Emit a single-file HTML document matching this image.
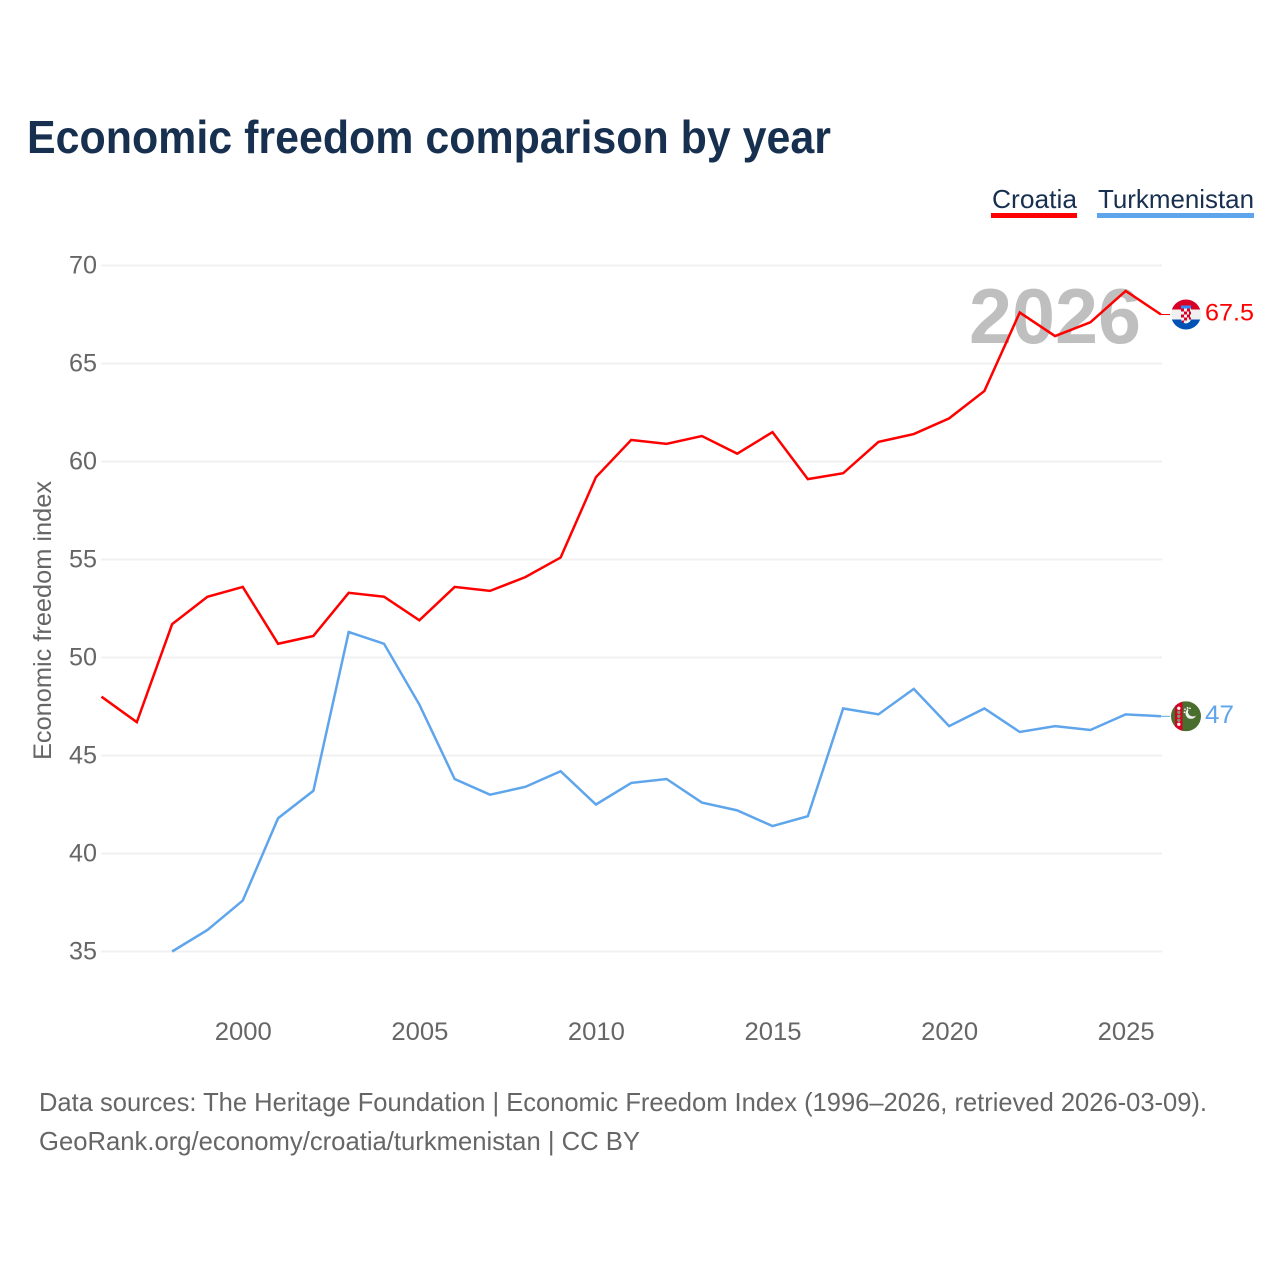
<!DOCTYPE html>
<html lang="en">
<head>
<meta charset="utf-8">
<title>Economic freedom comparison by year</title>
<style>
html,body{margin:0;padding:0;background:#fff;width:1280px;height:1280px;overflow:hidden}
svg{display:block}
text{font-family:"Liberation Sans",Arial,sans-serif}
</style>
</head>
<body>
<svg id="chart" xmlns="http://www.w3.org/2000/svg" width="1280" height="1280" viewBox="0 0 1280 1280">
  <defs>
    <clipPath id="clip-hr"><circle id="clip-hr-c" cx="0" cy="0" r="15"/></clipPath>
    <clipPath id="clip-tm"><circle id="clip-tm-c" cx="0" cy="0" r="15"/></clipPath>
  </defs>
  <text x="27" y="153" font-size="46" font-weight="700" fill="#18304f" textLength="804" lengthAdjust="spacingAndGlyphs">Economic freedom comparison by year</text>

  <g id="grid"></g>
  <g id="yticks"></g>
  <g id="xticks"></g>
  <text transform="translate(51,620.5) rotate(-90)" text-anchor="middle" font-size="25" fill="#666" textLength="279" lengthAdjust="spacingAndGlyphs">Economic freedom index</text>

  <text x="969" y="343" font-size="78" font-weight="700" fill="#bfbfbf" textLength="172" lengthAdjust="spacingAndGlyphs">2026</text>

  <g id="series"></g>

  <g>
    <g>
      <text x="992" y="208" font-size="26" fill="#18304f" textLength="85" lengthAdjust="spacingAndGlyphs">Croatia</text>
      <rect x="991" y="213" width="86" height="5" fill="#ff0000"/>
    </g>
    <g>
      <text x="1098" y="208" font-size="26" fill="#18304f" textLength="156" lengthAdjust="spacingAndGlyphs">Turkmenistan</text>
      <rect x="1097" y="213" width="157" height="5" fill="#5fa5ec"/>
    </g>
  </g>

  <g id="flag-hr">
    <g clip-path="url(#clip-hr)">
      <rect x="-15" y="-15" width="30" height="10" fill="#d80027"/>
      <rect x="-15" y="-5" width="30" height="10" fill="#f0f0f0"/>
      <rect x="-15" y="5" width="30" height="10" fill="#0052b4"/>
      <rect x="-5" y="-9" width="10" height="3" fill="#338af3"/>
      <path d="M-5 -6H5V4Q5 8 0 9Q-5 8 -5 4Z" fill="#f0f0f0"/>
      <rect x="-5" y="-6" width="3" height="3" fill="#d80027"/>
      <rect x="1" y="-6" width="3" height="3" fill="#d80027"/>
      <rect x="-2" y="-3" width="3" height="3" fill="#d80027"/>
      <rect x="3" y="-3" width="2" height="3" fill="#d80027"/>
      <rect x="-5" y="0" width="3" height="3" fill="#d80027"/>
      <rect x="1" y="0" width="3" height="3" fill="#d80027"/>
      <rect x="-2" y="3" width="3" height="3" fill="#d80027"/>
      <rect x="3" y="3" width="2" height="2" fill="#d80027"/>
      <rect x="-4" y="6" width="2" height="2" fill="#d80027"/>
    </g>
  </g>
  <g id="flag-tm">
    <g clip-path="url(#clip-tm)">
      <rect x="-15" y="-15" width="30" height="30" fill="#496e2d"/>
      <rect x="-11" y="-15" width="7.5" height="30" fill="#d80027"/>
      <circle cx="-7.2" cy="-8" r="1.7" fill="#f0f0f0"/>
      <circle cx="-7.2" cy="-4" r="1.7" fill="#7d9a66"/>
      <circle cx="-7.2" cy="0" r="1.7" fill="#7d9a66"/>
      <circle cx="-7.2" cy="4" r="1.7" fill="#7d9a66"/>
      <circle cx="-7.2" cy="8" r="1.7" fill="#f0f0f0"/>
      <circle cx="5" cy="-3" r="5.5" fill="#f0f0f0"/>
      <circle cx="7" cy="-5" r="5.2" fill="#496e2d"/>
      <circle cx="-1" cy="-7" r="0.9" fill="#f0f0f0"/>
      <circle cx="-1.5" cy="-4" r="0.9" fill="#f0f0f0"/>
      <circle cx="1.5" cy="-8.5" r="0.9" fill="#f0f0f0"/>
      <circle cx="1.5" cy="-5.5" r="0.9" fill="#f0f0f0"/>
      <circle cx="4" cy="-8" r="0.9" fill="#f0f0f0"/>
    </g>
  </g>
  <text id="label-hr" x="1205" font-size="24" fill="#ff0000" textLength="49" lengthAdjust="spacingAndGlyphs"></text>
  <text id="label-tm" x="1205" font-size="25" fill="#5fa5ec" textLength="29" lengthAdjust="spacingAndGlyphs"></text>

  <text x="39" y="1111" font-size="26" fill="#666" textLength="1168" lengthAdjust="spacingAndGlyphs">Data sources: The Heritage Foundation | Economic Freedom Index (1996–2026, retrieved 2026-03-09).</text>
  <text x="39" y="1150" font-size="26" fill="#666" textLength="601" lengthAdjust="spacingAndGlyphs">GeoRank.org/economy/croatia/turkmenistan | CC BY</text>
</svg>
<script>
const years = [1996,1997,1998,1999,2000,2001,2002,2003,2004,2005,2006,2007,2008,2009,2010,2011,2012,2013,2014,2015,2016,2017,2018,2019,2020,2021,2022,2023,2024,2025,2026];
const croatia = [48.0,46.7,51.7,53.1,53.6,50.7,51.1,53.3,53.1,51.9,53.6,53.4,54.1,55.1,59.2,61.1,60.9,61.3,60.4,61.5,59.1,59.4,61.0,61.4,62.2,63.6,67.6,66.4,67.1,68.7,67.5];
const turkmenistan = [null,null,35.0,36.1,37.6,41.8,43.2,51.3,50.7,47.6,43.8,43.0,43.4,44.2,42.5,43.6,43.8,42.6,42.2,41.4,41.9,47.4,47.1,48.4,46.5,47.4,46.2,46.5,46.3,47.1,47.0];
const yTicks = [35,40,45,50,55,60,65,70];
const xTicks = [2000,2005,2010,2015,2020,2025];

const NS = 'http://www.w3.org/2000/svg';
const xScale = function (yr) { return 101.5 + (yr - 1996) * (1161 - 101.5) / 30; };
const yScale = function (v) { return 951.5 - (v - 35) * 19.6; };

const grid = document.getElementById('grid');
const yGroup = document.getElementById('yticks');
const xGroup = document.getElementById('xticks');
const seriesGroup = document.getElementById('series');

yTicks.forEach(function (t) {
  const line = document.createElementNS(NS, 'line');
  
  
  line.setAttribute('x1', 101);
  line.setAttribute('x2', 1162);
  line.setAttribute('y1', yScale(t));
  line.setAttribute('y2', yScale(t));
  line.setAttribute('stroke', '#f0f0f0');
  line.setAttribute('stroke-width', '2');
  grid.appendChild(line);

  const label = document.createElementNS(NS, 'text');
  
  
  label.setAttribute('x', 97);
  label.setAttribute('y', yScale(t) + 8);
  label.setAttribute('text-anchor', 'end');
  label.setAttribute('font-size', '25');
  label.setAttribute('fill', '#666');
  label.setAttribute('textLength', '28');
  label.setAttribute('lengthAdjust', 'spacingAndGlyphs');
  label.textContent = t;
  yGroup.appendChild(label);
});

xTicks.forEach(function (t) {
  const label = document.createElementNS(NS, 'text');
  
  
  label.setAttribute('x', xScale(t) + 0.5);
  label.setAttribute('y', 1040);
  label.setAttribute('text-anchor', 'middle');
  label.setAttribute('font-size', '25');
  label.setAttribute('fill', '#666');
  label.setAttribute('textLength', '57');
  label.setAttribute('lengthAdjust', 'spacingAndGlyphs');
  label.textContent = t;
  xGroup.appendChild(label);
});

function buildPath(values) {
  let d = '';
  values.forEach(function (v, i) {
    if (v === null) { return; }
    d += (d === '' ? 'M' : 'L') + xScale(years[i]).toFixed(2) + ' ' + yScale(v).toFixed(2);
  });
  return d;
}

const croatiaPath = document.createElementNS(NS, 'path');


croatiaPath.setAttribute('d', buildPath(croatia));
croatiaPath.setAttribute('fill', 'none');
croatiaPath.setAttribute('stroke', '#ff0000');
croatiaPath.setAttribute('stroke-width', '2.5');
seriesGroup.appendChild(croatiaPath);

const turkmenPath = document.createElementNS(NS, 'path');


turkmenPath.setAttribute('d', buildPath(turkmenistan));
turkmenPath.setAttribute('fill', 'none');
turkmenPath.setAttribute('stroke', '#5fa5ec');
turkmenPath.setAttribute('stroke-width', '2.5');
seriesGroup.appendChild(turkmenPath);

const lastC = croatia[croatia.length - 1];
const lastT = turkmenistan[turkmenistan.length - 1];

const connC = document.createElementNS(NS, 'line');


connC.setAttribute('x1', 1161);
connC.setAttribute('x2', 1170);
connC.setAttribute('y1', yScale(lastC));
connC.setAttribute('y2', yScale(lastC));
connC.setAttribute('stroke', '#ff0000');
connC.setAttribute('stroke-width', '1');
seriesGroup.appendChild(connC);

const connT = document.createElementNS(NS, 'line');


connT.setAttribute('x1', 1161);
connT.setAttribute('x2', 1170);
connT.setAttribute('y1', yScale(lastT));
connT.setAttribute('y2', yScale(lastT));
connT.setAttribute('stroke', '#5fa5ec');
connT.setAttribute('stroke-width', '1');
seriesGroup.appendChild(connT);

document.getElementById('flag-hr').setAttribute('transform', 'translate(1186,' + yScale(lastC) + ')');
document.getElementById('flag-tm').setAttribute('transform', 'translate(1186,' + yScale(lastT) + ')');

const labelC = document.getElementById('label-hr');
labelC.setAttribute('y', yScale(lastC) + 6);
labelC.textContent = lastC;

const labelT = document.getElementById('label-tm');
labelT.setAttribute('y', yScale(lastT) + 6.5);
labelT.textContent = lastT;
</script>
</body>
</html>
